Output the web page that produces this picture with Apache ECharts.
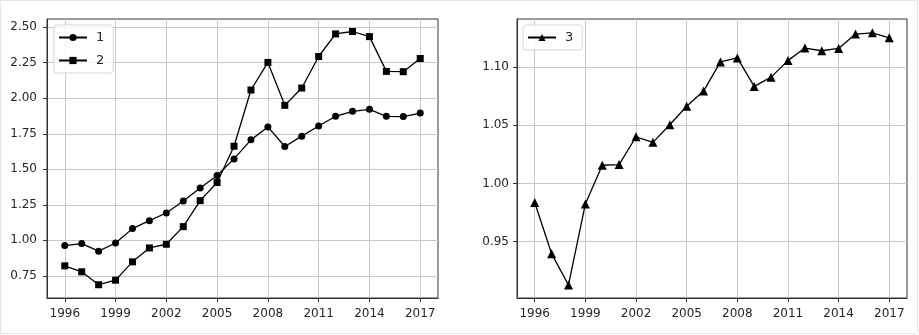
<!DOCTYPE html>
<html>
<head>
<meta charset="utf-8">
<script src="https://cdn.jsdelivr.net/npm/echarts@6/dist/echarts.min.js"></script>
<style>
  html, body { margin: 0; padding: 0; background: #fff; }
  #chart { width: 919px; height: 335px; }
</style>
</head>
<body>
<div id="chart"></div>
<script>
// years on the x axis
var years = [1996, 1997, 1998, 1999, 2000, 2001, 2002, 2003, 2004, 2005, 2006,
             2007, 2008, 2009, 2010, 2011, 2012, 2013, 2014, 2015, 2016, 2017];
var xTicks = [1996, 1999, 2002, 2005, 2008, 2011, 2014, 2017];

// left panel
var series1 = [0.963, 0.977, 0.923, 0.981, 1.082, 1.138, 1.192, 1.276, 1.368, 1.456, 1.573,
               1.707, 1.798, 1.660, 1.733, 1.805, 1.873, 1.908, 1.922, 1.873, 1.871, 1.896];
var series2 = [0.820, 0.778, 0.687, 0.719, 0.848, 0.946, 0.972, 1.096, 1.279, 1.407, 1.662,
               2.058, 2.252, 1.950, 2.072, 2.294, 2.453, 2.470, 2.434, 2.189, 2.187, 2.280];
var leftTicks = [0.75, 1.00, 1.25, 1.50, 1.75, 2.00, 2.25, 2.50];

// right panel
var series3 = [0.9836, 0.9395, 0.9127, 0.9824, 1.0157, 1.0163, 1.0402, 1.0354, 1.0505, 1.0664, 1.0795,
               1.1046, 1.1080, 1.0835, 1.0915, 1.1057, 1.1165, 1.1142, 1.1162, 1.1285, 1.1296, 1.1253];
var rightTicks = [0.95, 1.00, 1.05, 1.10];

function pairs(vals) {
  return years.map(function (y, i) { return [y, vals[i]]; });
}

var font = 'DejaVu Sans';
var textColor = '#262626';
var gridColor = '#c8c8c8';

function xAxis(gridIndex) {
  return {
    type: 'value', gridIndex: gridIndex,
    min: 1994.95, max: 2018.05,
    axisLine: { show: true, onZero: false, lineStyle: { color: '#333', width: 1 } },
    axisTick: { show: true, length: 4, customValues: xTicks, lineStyle: { color: '#333' } },
    axisLabel: {
      customValues: xTicks, fontFamily: font, fontSize: 12, color: textColor, margin: 10,
      formatter: function (v) { return String(v); }
    },
    splitLine: { show: true, lineStyle: { color: gridColor, width: 1 } }
  };
}

function yAxis(gridIndex, min, max, ticks, margin) {
  return {
    type: 'value', gridIndex: gridIndex,
    min: min, max: max,
    axisLine: { show: true, onZero: false, lineStyle: { color: '#333', width: 1 } },
    axisTick: { show: true, length: 4, customValues: ticks, lineStyle: { color: '#333' } },
    axisLabel: {
      customValues: ticks, fontFamily: font, fontSize: 12, color: textColor, margin: margin,
      formatter: function (v) { return v.toFixed(2); }
    },
    splitLine: { show: true, lineStyle: { color: gridColor, width: 1 } }
  };
}

function line(name, vals, symbol, size, idx) {
  return {
    name: name, type: 'line', xAxisIndex: idx, yAxisIndex: idx,
    data: pairs(vals),
    symbol: symbol, symbolSize: size, showSymbol: true,
    lineStyle: { color: '#000', width: 1.3 },
    itemStyle: { color: '#000' },
    animation: false
  };
}

function legend(names, left, top, padding) {
  return {
    data: names, orient: 'vertical', left: left, top: top,
    itemWidth: 28, itemHeight: 9, itemGap: 10, padding: padding,
    borderColor: '#d6d6d6', borderWidth: 1, borderRadius: 3,
    backgroundColor: 'rgba(255,255,255,0.8)',
    textStyle: { fontFamily: font, fontSize: 13, color: textColor, padding: [0, 0, 0, 4] }
  };
}

var chart = echarts.init(document.getElementById('chart'), null, { renderer: 'canvas' });
chart.setOption({
  animation: false,
  backgroundColor: '#fff',
  grid: [
    { left: 47, top: 19, width: 391, height: 279, show: true, borderColor: '#333', borderWidth: 1, backgroundColor: 'transparent' },
    { left: 517, top: 19, width: 390, height: 279, show: true, borderColor: '#333', borderWidth: 1, backgroundColor: 'transparent' }
  ],
  xAxis: [xAxis(0), xAxis(1)],
  yAxis: [yAxis(0, 0.5935, 2.558, leftTicks, 10), yAxis(1, 0.9015, 1.1415, rightTicks, 8)],
  legend: [
    legend(['1', '2'], 54, 25, [6, 9, 6, 4]),
    legend(['3'], 523, 25, [6, 9, 6, 4])
  ],
  graphic: [{
    type: 'rect', silent: true,
    shape: { x: 0.5, y: 0.5, width: 917, height: 333 },
    style: { fill: 'none', stroke: '#e4e4e4', lineWidth: 1 }
  }],
  series: [
    line('1', series1, 'circle', 7, 0),
    line('2', series2, 'rect', 7, 0),
    line('3', series3, 'triangle', 9, 1)
  ]
});
</script>
</body>
</html>
